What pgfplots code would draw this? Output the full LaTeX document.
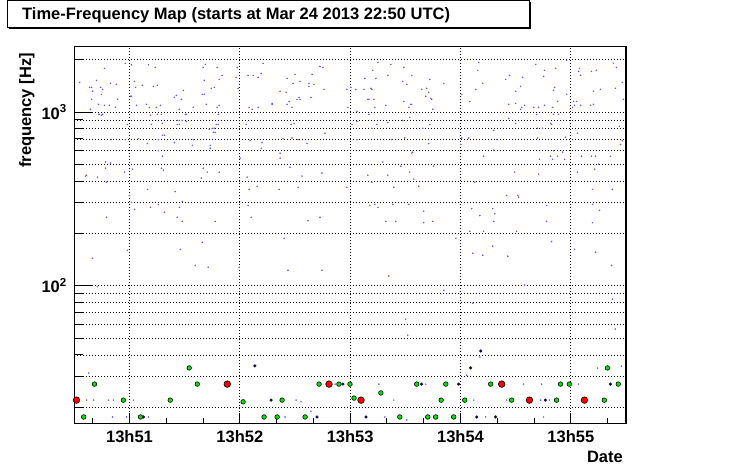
\documentclass[border=0pt]{standalone}
\usepackage{fontspec}
\setmainfont{Liberation Sans}
\usepackage{pgfplots}
\usepackage{pgfplotstable}
\pgfplotsset{compat=1.18}

\definecolor{rootgreen}{RGB}{0,230,0}
\definecolor{rootnavy}{RGB}{10,10,120}
\definecolor{rootblue}{RGB}{100,90,255}
\newcommand{\rf}{\fontsize{16.5bp}{19bp}\selectfont\bfseries}

% small triggers (time in s after 13h50, frequency in Hz)
\pgfplotstableread{
t f
46.4 1783
57.8 1905
61.1 1872
70.3 1872
74.1 1806
32.9 1481
42.1 1521
49.7 1462
52.9 1442
38.3 1387
39.4 1387
44.3 1387
45.4 1351
39.9 1316
44.8 1264
39.4 1183
53.5 1183
43.2 1107
46.4 1093
49.1 1093
52.4 1064
38.8 1037
43.2 970
43.7 970
44.8 958
45.4 970
62.7 1501
63.3 1387
67.0 1424
73.0 1405
75.2 1424
60.5 1232
61.1 1232
63.8 1093
69.2 1107
70.8 1064
74.6 1064
76.8 1093
71.4 958
75.2 970
77.4 970
58.9 849
71.9 849
77.9 860
50.2 694
57.8 694
64.9 703
69.8 659
75.7 694
77.9 735
79.0 735
84.4 667
75.7 600
77.9 557
47.0 516
49.7 509
47.0 475
57.3 451
61.6 469
36.1 428
36.7 433
42.6 422
47.5 395
77.4 475
78.4 463
89.3 1333
85.5 1248
84.4 1215
88.2 1183
87.1 1037
94.7 1064
86.0 895
87.1 895
88.7 895
86.0 849
87.1 849
90.4 970
90.9 970
90.9 883
94.7 694
94.2 643
100.1 1806
101.2 1880
107.7 1806
100.7 1521
108.8 1541
110.4 1625
104.5 1369
106.1 1387
99.6 1264
100.7 1264
101.8 1107
107.7 1064
108.8 1093
108.3 970
103.4 796
105.0 806
106.1 806
105.6 765
106.6 765
107.2 849
108.3 849
103.9 643
103.9 619
100.1 475
102.3 451
108.8 451
99.1 417
69.8 359
84.9 349
88.7 306
75.7 294
71.4 283
62.7 275
61.1 302
79.0 265
87.1 283
86.0 248
88.7 235
47.5 248
106.6 235
118.6 1806
118.0 1583
119.1 1369
124.5 1625
127.3 1625
125.1 1064
126.7 1037
123.5 849
125.6 684
120.2 543
124.0 422
125.1 359
124.5 290
126.2 248
60.0 331
132.7 1905
130.0 1583
131.6 1669
145.7 1562
150.0 1647
152.7 1501
149.0 1462
157.6 1462
157.6 1405
160.3 1442
163.6 1830
165.2 1806
159.3 1647
165.8 1351
141.9 1316
145.2 1299
146.8 1151
145.7 1107
148.4 1064
151.1 1183
152.2 1215
152.7 1183
158.7 1215
137.6 1122
137.6 1107
130.0 1064
178.2 1351
180.4 1387
183.1 1351
187.5 1351
191.3 1369
191.8 1351
188.0 1562
194.0 1562
192.3 1737
195.1 1929
202.1 1880
209.2 1806
200.5 1625
213.5 1625
208.6 1501
210.8 1442
223.3 1541
218.9 1351
221.6 1369
222.7 1299
221.1 1232
223.8 1199
224.3 1183
189.6 1183
190.2 1183
192.9 1183
199.4 1093
193.4 1064
178.8 1064
209.2 1151
213.0 1107
213.5 1107
211.9 1064
224.9 1037
183.7 1009
190.2 970
212.4 932
147.9 849
149.5 860
166.3 755
132.1 667
131.6 619
143.5 703
151.7 694
148.4 709
156.5 659
181.0 849
183.7 883
194.5 849
200.5 871
191.8 806
208.6 895
223.3 849
219.5 806
183.7 694
202.6 694
209.7 709
222.7 659
213.5 580
214.0 588
141.9 580
141.9 543
147.3 481
153.8 428
164.7 446
129.4 374
141.4 359
151.7 369
178.2 369
197.8 516
200.5 433
207.5 488
212.4 451
225.4 488
189.6 433
191.8 395
214.6 411
203.7 369
217.3 374
190.7 290
193.4 294
195.1 283
203.2 294
211.9 294
220.0 269
157.1 237
163.6 248
199.4 235
204.8 235
220.0 231
224.9 235
230.9 1462
249.9 1929
249.4 1737
252.1 1462
248.3 1351
240.7 1264
245.1 1151
264.6 1541
266.7 1625
273.8 1583
272.7 1405
270.0 1316
266.2 1107
270.0 1122
273.3 1064
274.9 1093
272.7 1037
279.8 1064
282.5 1064
285.7 1093
290.1 1064
292.8 1151
280.9 1880
285.7 1737
285.2 1604
291.7 1783
291.2 1387
290.6 1333
297.7 1264
297.7 1981
304.7 1783
304.2 1714
305.3 1625
311.2 1714
313.9 1737
301.5 1151
303.1 1151
302.0 1093
300.9 1064
305.3 1093
310.7 1093
312.3 1107
312.3 1316
316.1 1351
324.2 1369
323.2 1905
324.8 1806
328.0 1481
328.6 1183
266.2 919
270.0 860
281.4 970
290.6 970
293.3 970
289.0 860
289.5 849
281.9 806
284.6 806
258.1 785
244.5 709
259.7 694
240.7 709
240.2 651
281.9 709
297.1 716
303.6 755
326.4 828
328.0 684
327.0 651
258.1 603
252.6 557
283.0 535
289.0 557
290.1 535
292.8 557
295.5 588
290.6 600
296.6 535
305.8 557
311.2 557
313.4 557
321.5 557
315.0 501
312.9 469
269.5 451
282.5 439
247.8 395
303.6 451
311.8 359
322.6 359
265.1 331
271.1 331
271.6 324
286.8 290
246.1 278
250.5 254
257.5 278
258.6 260
258.1 235
245.1 206
252.6 206
270.5 206
286.8 235
311.8 294
315.6 272
311.8 231
39.9 144
58.9 160
87.7 162
99.6 178
95.8 131
102.8 128
119.7 128
42.6 99
37.8 31.5
36.7 22.0
40.5 22.0
48.6 22.0
51.3 22.0
62.2 22.0
50.8 17.6
58.4 17.6
70.3 17.6
144.1 188
146.2 123
164.7 123
201.0 114
210.2 64.3
211.3 52.0
150.6 22.0
153.3 21.5
203.7 22.0
158.7 19.0
144.6 17.6
198.9 17.6
210.8 16.9
195.6 27.2
221.1 27.2
171.8 27.2
237.5 188
246.7 154
252.1 150
257.5 169
265.7 148
289.5 180
302.0 162
313.4 156
322.1 131
274.9 101
231.0 94.4
246.7 79.4
322.6 83.8
324.2 56.4
250.5 38.9
243.4 30.6
314.5 33.6
327.5 34.5
274.3 27.2
284.1 27.2
304.2 27.2
247.2 22.0
265.1 22.0
276.0 22.0
283.6 22.0
288.4 22.0
253.7 17.6
285.2 17.6
}\smalltrig

\pgfplotstableread{
t f
67.6 17.6
128.2 34.6
137.0 22.0
162.0 17.6
176.1 27.2
188.6 17.6
218.9 27.2
239.0 27.2
245.5 33.7
251.0 42.2
248.8 17.6
259.1 17.6
286.2 22.0
321.5 27.2
}\navytrig

\pgfplotstableread{
t f
35.1 17.6
41.0 27.2
56.7 22.0
66.0 17.6
82.2 22.0
92.5 33.7
96.9 27.2
121.8 21.5
133.2 17.6
140.3 17.6
143.0 22.0
155.5 17.6
163.1 27.2
173.9 27.2
179.9 27.2
182.1 22.6
196.7 24.2
207.0 17.6
216.2 27.2
222.2 17.6
226.5 17.6
229.5 22.0
232.0 27.2
236.3 17.6
242.3 22.0
256.4 27.2
267.8 22.0
292.2 22.0
294.4 27.2
299.2 27.2
318.2 22.0
319.9 33.7
325.8 27.2
}\greentrig

\pgfplotstableread{
t f
31.2 22.0
113.2 27.2
168.5 27.2
185.9 22.0
262.4 27.2
277.5 22.0
307.4 22.0
}\redtrig

\begin{document}
\begin{tikzpicture}
\useasboundingbox (0,0) rectangle (746bp,472bp);
\begin{axis}[
    at={(74.3bp,48.3bp)}, anchor=south west,
    scale only axis, width=551.7bp, height=377bp,
    xmin=30, xmax=330,
    ymode=log, ymin=16.1, ymax=2377,
    xtick={60,120,180,240,300},
    xticklabels={13h51,13h52,13h53,13h54,13h55},
    minor xtick={40,80,100,140,160,200,220,260,280,320},
    ytick={100,1000},
    yticklabels={10\textsuperscript{2},10\textsuperscript{3}},
    minor ytick={20,30,40,50,60,70,80,90,200,300,400,500,600,700,800,900,2000},
    xtick pos=bottom, ytick pos=left,
    tick align=inside,
    xtick style={/pgfplots/major tick length=11bp, /pgfplots/minor tick length=6bp},
    ytick style={/pgfplots/major tick length=19bp, /pgfplots/minor tick length=9bp},
    tick style={black, line width=1bp},
    axis line style={black, line width=1.6bp},
    xmajorgrids, ymajorgrids, yminorgrids,
    major grid style={black, line width=0.9bp, dash pattern=on 0.9bp off 2.1bp},
    minor grid style={black, line width=0.9bp, dash pattern=on 0.9bp off 2.1bp},
    tick label style={font=\rf, inner sep=0pt},
    xticklabel shift=6.5bp,
    yticklabel shift=7.3bp,
    clip mode=individual,
]
\addplot[only marks, color=rootblue, mark=*, mark size=0.55bp,
    mark options={draw=none, fill=rootblue}] table[x=t, y=f] {\smalltrig};
\addplot[only marks, color=rootnavy, mark=*, mark size=1.4bp,
    mark options={draw=black!70!rootnavy, fill=rootnavy, line width=0.3bp}] table[x=t, y=f] {\navytrig};
\addplot[only marks, color=black, mark=*, mark size=2.3bp,
    mark options={draw=black, fill=rootgreen, line width=0.6bp}] table[x=t, y=f] {\greentrig};
\addplot[only marks, color=black, mark=*, mark size=3.3bp,
    mark options={draw=black, fill=red, line width=0.6bp}] table[x=t, y=f] {\redtrig};
\end{axis}

% title box with shadow
\fill[black] (8.5bp,442.5bp) rectangle (530.5bp,469.5bp);
\draw[fill=white, line width=1bp] (7bp,444bp) rectangle (529bp,471bp);
\node[anchor=base west, inner sep=0pt] at (22bp,452.7bp)
    {\rf Time-Frequency Map (starts at Mar 24 2013 22:50 UTC)};

% axis titles
\node[rotate=90, anchor=base east, inner sep=0pt] at (31bp,419bp) {\rf frequency [Hz]};
\node[anchor=base east, inner sep=0pt] at (623bp,9.3bp) {\rf Date};
\end{tikzpicture}
\end{document}
